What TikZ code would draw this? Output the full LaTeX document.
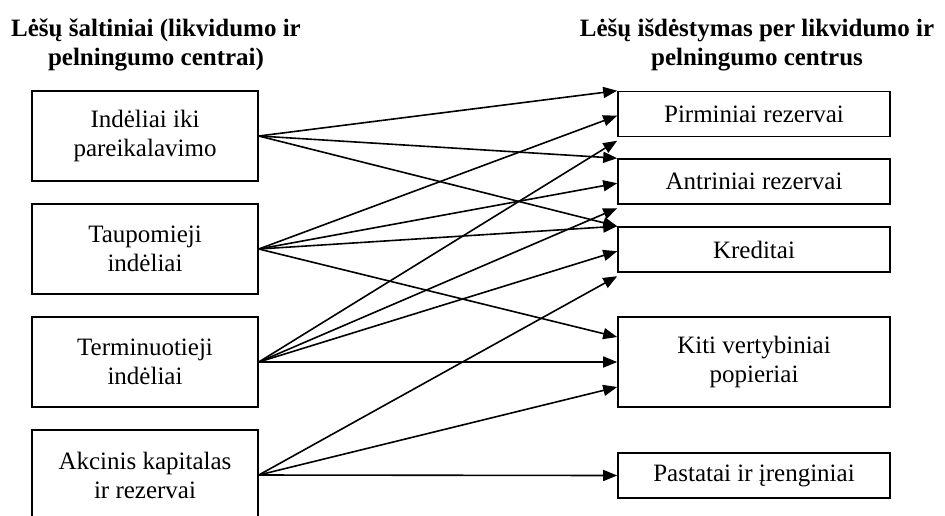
\documentclass[tikz,border=0pt]{standalone}
\usepackage{fontspec}
\setmainfont{Liberation Serif}
\usepackage{tikz}
\usetikzlibrary{arrows.meta}

\begin{document}
\begin{tikzpicture}[x=0.5pt,y=-0.5pt,
  font=\fontsize{12.5}{14.5}\selectfont,
  src/.style={draw,line width=0.8pt,minimum width=113pt,minimum height=45pt,align=center,inner sep=2pt},
  dst/.style={draw,line width=0.8pt,minimum width=136pt,minimum height=22.5pt,align=center,inner sep=2pt},
  head/.style={font=\fontsize{12.5}{14.5}\selectfont\bfseries,align=center,inner sep=0pt},
  arr/.style={line width=0.8pt,-{Triangle[length=7pt,width=5.5pt]}}]
\useasboundingbox (0,0) rectangle (945,515);

\node[head] (lhead) at (156,45) {Lėšų šaltiniai (likvidumo ir\\pelningumo centrai)};
\node[head] (rhead) at (757,45) {Lėšų išdėstymas per likvidumo ir\\pelningumo centrus};

\node[src] (indel) at (145,136) {Indėliai iki\\pareikalavimo};
\node[src] (taup) at (145,249) {Taupomieji\\indėliai};
\node[src] (term) at (145,362) {Terminuotieji\\indėliai};
\node[src] (akc) at (145,475) {Akcinis kapitalas\\ir rezervai};

\node[dst] (pirm) at (754,114) {Pirminiai rezervai};
\node[dst] (antr) at (754,181.5) {Antriniai rezervai};
\node[dst] (kred) at (754,249.5) {Kreditai};
\node[dst,minimum height=45pt] (kiti) at (754,362) {Kiti vertybiniai\\popieriai};
\node[dst] (past) at (754,475.5) {Pastatai ir įrenginiai};

\draw[arr] (indel.east)--(pirm.north west);
\draw[arr] (indel.east)--(antr.north west);
\draw[arr] (indel.east)--(kred.north west);

\draw[arr] (taup.east)--([yshift=-12.5pt]pirm.north west);
\draw[arr] (taup.east)--([yshift=-12.5pt]antr.north west);
\draw[arr] (taup.east)--(kred.north west);
\draw[arr] (taup.east)--([yshift=12.5pt]kiti.west);

\draw[arr] (term.east)--([yshift=-25pt]pirm.north west);
\draw[arr] (term.east)--([yshift=-25pt]antr.north west);
\draw[arr] (term.east)--([yshift=-12.5pt]kred.north west);
\draw[arr] (term.east)--(kiti.west);

\draw[arr] (akc.east)--([yshift=-25pt]kred.north west);
\draw[arr] (akc.east)--([yshift=-12.5pt]kiti.west);
\draw[arr] (akc.east)--(past.west);

\end{tikzpicture}
\end{document}
